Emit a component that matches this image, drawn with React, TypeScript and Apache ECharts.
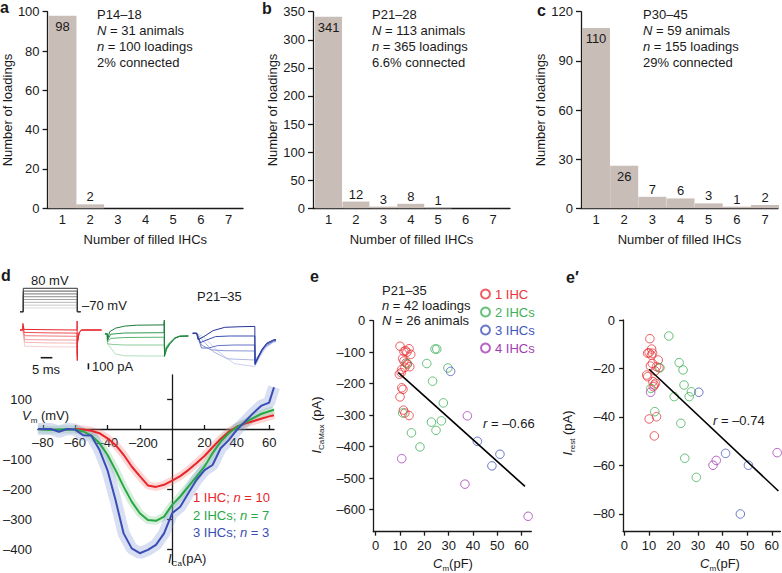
import React, { useEffect, useRef } from "react";
import * as echarts from "echarts";

const FONT = "'Liberation Sans', Arial, Helvetica, sans-serif";
const INK = "#1a1a1a";
const BAR = "#c9bdb7";

// ---- panels a-c : histograms ----
const fillBins = [1, 2, 3, 4, 5, 6, 7];
const countsP14 = [98, 2, 0, 0, 0, 0, 0];
const countsP21 = [341, 12, 3, 8, 1, 0, 0];
const countsP30 = [110, 26, 7, 6, 3, 1, 2];

// ---- panel d : voltage protocol (mV) ----
const protocolTimes = [0, 1.4, 1.4, 24.6, 24.6, 26];
const protocolLevels = [-46, -28, -10, 8, 26, 44, 62, 80]; // lightest first
const holdingMv = -70;

// ---- panel d : example current traces [ms, pA], darkest first ----
const redTraces = [
  [[0, 0], [1.2, 0], [1.25, 110], [1.7, 10], [12, 5], [24.5, 0], [24.55, 150], [24.6, -510], [24.7, -220], [25.4, -40], [26.5, 0], [35, 0]],
  [[0, 0], [1.2, 0], [1.25, 70], [1.8, -40], [12, -48], [24.5, -52], [24.6, -440], [24.7, -200], [25.4, -50], [26.5, 0], [35, 0]],
  [[0, 0], [1.2, 0], [1.25, 40], [1.9, -95], [12, -100], [24.5, -105], [24.6, -380], [24.7, -190], [25.4, -50], [26.5, 0], [35, 0]],
  [[0, 0], [1.2, 0], [1.25, 20], [2, -160], [12, -165], [24.5, -168], [24.6, -330], [24.7, -170], [25.4, -50], [26.5, 0], [35, 0]],
  [[0, 0], [1.2, 0], [2, -205], [12, -215], [24.5, -218], [24.6, -300], [24.7, -160], [25.4, -40], [26.5, 0], [35, 0]],
  [[0, 0], [1.2, 0], [2, -270], [12, -280], [24.5, -282], [24.6, -260], [24.7, -150], [25.4, -40], [26.5, 0], [35, 0]],
];
const greenTraces = [
  [[36.5, -65], [37.5, -65], [37.6, -170], [38.5, -30], [41, 30], [45, 65], [50, 80], [61.9, 85], [62, 165], [62.1, -440], [63, -320], [64.5, -230], [66.5, -140], [68.5, -105], [72.3, -100]],
  [[36.5, -65], [37.5, -65], [37.6, -170], [39, -70], [45, -50], [61.9, -45], [62, 120], [62.1, -400], [63, -300], [64.5, -220], [66.5, -140], [68.5, -105], [72.3, -100]],
  [[36.5, -65], [37.5, -65], [37.6, -200], [39, -140], [45, -125], [61.9, -120], [62.1, -360], [63, -280], [64.5, -210], [66.5, -135], [68.5, -105], [72.3, -100]],
  [[36.5, -65], [37.5, -65], [37.6, -230], [39.5, -240], [45, -250], [61.9, -250], [62.1, -330], [63, -270], [64.5, -200], [66.5, -130], [68.5, -105], [72.3, -100]],
  [[36.5, -65], [37.5, -65], [37.6, -230], [39, -300], [41, -400], [45, -430], [61.9, -435], [62.1, -380], [63, -300], [64.5, -210], [66.5, -130], [68.5, -105], [72.3, -100]],
];
const blueTraces = [
  [[74.2, -55], [75.9, -55], [76.5, -160], [79, -110], [83, -10], [88, 45], [95, 55], [100.9, 60], [101, -560], [102, -470], [104, -320], [106, -220], [108.9, -165], [110, -160]],
  [[74.2, -55], [75.9, -55], [77.5, -210], [80, -170], [84, -110], [90, -100], [100.9, -100], [101, -580], [102, -500], [104, -340], [106, -230], [108.9, -170], [110, -165]],
  [[74.2, -55], [75.9, -55], [78, -300], [81, -300], [85, -260], [92, -250], [100.9, -250], [101, -560], [102, -480], [104, -330], [106, -240], [108.9, -180], [110, -170]],
  [[74.2, -55], [75.9, -55], [78, -250], [82, -330], [88, -345], [100.9, -350], [101, -530], [103, -420], [105.5, -270], [108.9, -190], [110, -180]],
  [[74.2, -55], [75.9, -55], [78, -150], [83, -360], [89, -480], [100.9, -500], [102, -450], [105, -300], [108.9, -200], [110, -190]],
  [[74.2, -55], [75.9, -55], [79, -120], [85, -350], [92, -560], [100.9, -610], [103, -450], [106, -280], [108.9, -200], [110, -195]],
];
const scaleBarTime = [[8.9, -462], [13.9, -462]]; // 5 ms
const scaleBarCurrent = [[29.4, -555], [29.4, -655]]; // 100 pA

// ---- panel d : I-V curves ----
const vmSteps = [-83, -80, -75, -70, -65, -60, -55, -50, -45, -40, -35, -30, -25, -20, -15, -10, -5, 0, 5, 10, 15, 20, 25, 30, 35, 40, 45, 50, 55, 60, 63];
const ica1IHC = [null, null, null, null, null, 0, -2, -6, -14, -31, -53, -86, -125, -157, -188, -193, -186, -172, -157, -137, -114, -90, -61, -33, -9, 7, 18, 26, 34, 42, 46];
const ica2IHC = [0, -2, -3, -2, -1, -2, -8, -22, -47, -86, -137, -192, -242, -281, -303, -306, -292, -253, -225, -192, -159, -125, -81, -42, -14, 6, 21, 36, 50, 59, 64];
const ica3IHC = [0, 0, 0, -9, 0, -2, -21, -22, -69, -137, -237, -348, -398, -414, -403, -386, -348, -281, -259, -214, -170, -137, -120, -64, -37, -3, 24, 52, 77, 88, 139];
const ivXTicks = [-80, -60, -40, -20, 20, 40, 60];
const ivYTicks = [100, -100, -200, -300, -400];

// ---- panel e : I_CaMax vs Cm ----
const eRed = [[10, -81], [13.7, -89], [11.6, -98], [12.8, -100], [14.4, -107], [11.1, -120], [11.6, -128], [12.5, -134], [13, -138], [14, -146], [12, -148], [10.7, -155], [10.5, -165], [9.7, -170], [10.7, -213], [11.2, -218], [10, -242], [11.4, -284], [12, -293], [13.7, -301], [12.2, -95]];
const eGreen = [[21, -136], [24.4, -90], [25.1, -90], [29.7, -150], [13, -136], [23.4, -192], [27.8, -261], [11.1, -293], [22.9, -322], [27, -318], [24.8, -348], [14.7, -356], [18.2, -401]];
const eBlue = [[30.8, -161], [41.8, -383], [51.1, -424], [47.8, -461]];
const ePurple = [[37.7, -302], [10.7, -438], [36.7, -519], [62.7, -621]];
const eFit = [[9.3, -165], [61.4, -526]];

// ---- panel e' : I_rest vs Cm ----
const rRed = [[10.4, -7.7], [11.1, -12], [10.1, -13.5], [11.5, -13.7], [9.5, -13.7], [11, -14.5], [13.8, -16.5], [11.4, -17.9], [13.1, -19.2], [14.1, -19.7], [9.1, -22.7], [9.5, -23.4], [11.6, -25.4], [12.7, -26.1], [12.2, -26.8], [10.1, -40.8], [13.1, -39.9], [12.2, -47.8], [12.5, -21], [11.8, -27.5], [10.6, -19]];
const rGreen = [[18.1, -6.6], [22.3, -17.6], [23.9, -20.6], [14.5, -19.7], [24.3, -26.8], [27.3, -29.6], [26.4, -31.6], [20.3, -31.6], [10.8, -28.2], [12.4, -37.8], [23, -42.6], [24.6, -57], [29.3, -64.9]];
const rBlue = [[30.3, -29.8], [41.2, -55], [50.5, -59.9], [47.2, -80]];
const rPurple = [[10.7, -29.8], [36.1, -59.9], [37.4, -57.9], [62.2, -54.7]];
const rFit = [[10.1, -20.3], [62.7, -70.5]];

const cmTicks = [0, 10, 20, 30, 40, 50, 60];
const eYTicks = [0, -100, -200, -300, -400, -500, -600];
const rYTicks = [0, -20, -40, -60, -80];

const groupNames = ["1 IHC", "2 IHCs", "3 IHCs", "4 IHCs"];

// ---- styles ----
const C1 = "#e8353a", C2 = "#3fb058", C3 = "#4356bd", C4 = "#a43cb4";
const redShades = ["#e8252b", "#ec4e52", "#f07a7c", "#f39c9e", "#f6b8b9", "#f9d0d1"];
const greenShades = ["#1c7d3a", "#2f9b50", "#5cb673", "#89cc99", "#b4e0bf"];
const blueShades = ["#26359a", "#3a4eb4", "#6474c6", "#8b97d6", "#afb8e5", "#cdd3ef"];
const greyShades = ["#d8d8d8", "#c8c8c8", "#b6b6b6", "#a2a2a2", "#8c8c8c", "#767676", "#5a5a5a", "#333333"];

const fmt = (v: number) => (v < 0 ? "\u2013" + Math.abs(v) : String(v));
const lbl = { color: INK, fontSize: 13, fontFamily: FONT };
const aLine = { show: true, onZero: false, lineStyle: { color: INK, width: 1.3 } };
const aTick = (len: number, vals?: number[], inside = false) => ({ show: true, inside, length: len, lineStyle: { color: INK, width: 1.3 }, ...(vals ? { customValues: vals } : {}) });

const histX = (gi: number, min: number, max: number) => ({
  gridIndex: gi, type: "value", min, max,
  axisLine: aLine, axisTick: { show: false }, splitLine: { show: false },
  axisLabel: { ...lbl, margin: 5, customValues: fillBins },
  name: "Number of filled IHCs", nameLocation: "middle", nameGap: 25, nameTextStyle: lbl,
});
const histY = (gi: number, max: number, interval: number, gap: number) => ({
  gridIndex: gi, type: "value", min: 0, max, interval,
  axisLine: aLine, axisTick: aTick(5), splitLine: { show: false },
  axisLabel: { ...lbl, margin: 8 },
  name: "Number of loadings", nameLocation: "middle", nameGap: gap, nameTextStyle: lbl,
});
const hidden = (gi: number, min: number, max: number) => ({ gridIndex: gi, type: "value", min, max, show: false });

const barSeries = (gi: number, counts: number[], width: number, max: number) => ({
  type: "bar", xAxisIndex: gi, yAxisIndex: gi, barWidth: width,
  itemStyle: { color: BAR },
  data: counts.map((c, i) => ({
    value: [fillBins[i], c],
    label: c / max > 0.15 ? { position: "insideTop", distance: 4 } : { position: "top", distance: 1 },
  })),
  label: { show: true, formatter: (p: any) => (p.value[1] > 0 ? String(p.value[1]) : ""), ...lbl },
});
const lineS = (gi: number, data: any[], color: string, width: number, extra: any = {}) => ({
  type: "line", xAxisIndex: gi, yAxisIndex: gi, data, symbol: "none", clip: false, silent: true,
  lineStyle: { color, width }, ...extra,
});
const scatterS = (gi: number, name: string, data: number[][], color: string) => ({
  type: "scatter", name, xAxisIndex: gi, yAxisIndex: gi, data, symbol: "circle", symbolSize: 8.5, clip: false,
  itemStyle: { color: "rgba(0,0,0,0)", borderColor: color, borderWidth: 1 },
});
const txt = (x: number, y: number, text: string, extra: any = {}, el: any = {}) => ({
  type: "text", x, y, silent: true, ...el,
  style: {
    text, fill: INK, fontSize: 13, fontFamily: FONT, textAlign: "left", textVerticalAlign: "middle",
    rich: {
      i: { fontStyle: "italic", fontSize: 13, fontFamily: FONT, fill: extra.fill || INK, lineHeight: 18 },
      s: { fontSize: 8, fontFamily: FONT, fill: extra.fill || INK, verticalAlign: "bottom", lineHeight: 9 },
      n: { fontSize: 13, fontFamily: FONT, fill: extra.fill || INK, lineHeight: 18 },
    },
    ...extra,
  },
});
const panel = (x: number, y: number, t: string) => txt(x, y, t, { fontWeight: "bold", fontSize: 16 });

function buildOption() {
  const protocolSeries = protocolLevels.map((L, k) =>
    lineS(3, protocolTimes.map((t, i) => [t, i === 2 || i === 3 ? L : holdingMv]), greyShades[k], 1));
  const traceSeries: any[] = [];
  [[redTraces, redShades], [greenTraces, greenShades], [blueTraces, blueShades]].forEach(([tr, sh]: any) => {
    for (let k = tr.length - 1; k >= 0; k--) traceSeries.push(lineS(4, tr[k], sh[k], 1));
  });
  const iv = (arr: (number | null)[]) => vmSteps.map((v, i) => [v, arr[i] === null ? "-" : arr[i]]);

  return {
    animation: false,
    textStyle: { fontFamily: FONT },
    grid: [
      { left: 45, top: 11.7, width: 198, height: 196.6 },
      { left: 313, top: 11.7, width: 197, height: 196.6 },
      { left: 581, top: 11.7, width: 197, height: 196.6 },
      { left: 20, top: 287.5, width: 60.6, height: 25 },
      { left: 20, top: 318, width: 256, height: 54 },
      { left: 17, top: 375, width: 257, height: 189 },
      { left: 373.3, top: 320.7, width: 158, height: 211 },
      { left: 623.1, top: 320, width: 158, height: 211.7 },
    ],
    xAxis: [
      histX(0, 0.465, 7.52),
      histX(1, 0.434, 7.62),
      histX(2, 0.468, 7.46),
      hidden(3, 0, 26),
      hidden(4, 0, 110),
      {
        gridIndex: 5, type: "value", min: -83, max: 63, offset: -135,
        axisLine: aLine,
        axisTick: aTick(4, ivXTicks, true), splitLine: { show: false },
        axisLabel: { ...lbl, margin: 7, customValues: ivXTicks, formatter: fmt },
      },
      {
        gridIndex: 6, type: "value", min: -1, max: 64,
        axisLine: aLine, axisTick: aTick(4, cmTicks), splitLine: { show: false },
        axisLabel: { ...lbl, margin: 7, customValues: cmTicks },
      },
      {
        gridIndex: 7, type: "value", min: -0.5, max: 63.5,
        axisLine: aLine, axisTick: aTick(4, cmTicks), splitLine: { show: false },
        axisLabel: { ...lbl, margin: 7, customValues: cmTicks },
      },
    ],
    yAxis: [
      histY(0, 100, 20, 30),
      histY(1, 350, 50, 32),
      histY(2, 120, 30, 33),
      hidden(3, -75, 85),
      hidden(4, -700, 200),
      {
        gridIndex: 5, type: "value", min: -450, max: 180,
        axisLine: { show: true, onZero: true, lineStyle: { color: INK, width: 1.3 } },
        axisTick: aTick(5, ivYTicks), splitLine: { show: false },
        axisLabel: { ...lbl, margin: 6, customValues: ivYTicks, formatter: fmt },
      },
      {
        gridIndex: 6, type: "value", min: -670, max: 0,
        axisLine: aLine, axisTick: aTick(4, eYTicks), splitLine: { show: false },
        axisLabel: { ...lbl, margin: 8, customValues: eYTicks, formatter: fmt },
      },
      {
        gridIndex: 7, type: "value", min: -87.3, max: 0,
        axisLine: aLine, axisTick: aTick(4, rYTicks), splitLine: { show: false },
        axisLabel: { ...lbl, margin: 8, customValues: rYTicks, formatter: fmt },
      },
    ],
    legend: {
      orient: "vertical", left: 480, top: 287, padding: 0, itemWidth: 9, itemHeight: 9, itemGap: 4,
      selectedMode: false,
      textStyle: { fontSize: 13, fontFamily: FONT, lineHeight: 14 },
      data: groupNames.map((n, i) => ({ name: n, textStyle: { color: [C1, C2, C3, C4][i] } })),
    },
    series: [
      barSeries(0, countsP14, 28, 100),
      barSeries(1, countsP21, 27, 350),
      barSeries(2, countsP30, 28, 120),
      ...protocolSeries,
      ...traceSeries,
      lineS(4, scaleBarTime, INK, 1.6),
      lineS(4, scaleBarCurrent, INK, 1.6),
      lineS(5, iv(ica1IHC), "rgba(240,110,110,0.28)", 8),
      lineS(5, iv(ica2IHC), "rgba(120,200,135,0.30)", 8),
      lineS(5, iv(ica3IHC), "rgba(130,150,215,0.30)", 12),
      lineS(5, iv(ica1IHC), "#e8262a", 2),
      lineS(5, iv(ica2IHC), "#27a844", 2),
      lineS(5, iv(ica3IHC), "#3a4db5", 2),
      scatterS(6, groupNames[0], eRed, C1),
      scatterS(6, groupNames[1], eGreen, C2),
      scatterS(6, groupNames[2], eBlue, C3),
      scatterS(6, groupNames[3], ePurple, C4),
      lineS(6, eFit, "#000", 1.6),
      scatterS(7, groupNames[0], rRed, C1),
      scatterS(7, groupNames[1], rGreen, C2),
      scatterS(7, groupNames[2], rBlue, C3),
      scatterS(7, groupNames[3], rPurple, C4),
      lineS(7, rFit, "#000", 1.6),
    ],
    graphic: [
      panel(0, 7, "a"), panel(262, 8, "b"), panel(537, 10, "c"),
      panel(1, 275, "d"), panel(310, 276, "e"), panel(566, 277, "e\u2032"),
      txt(97, 14, "P14\u201318"), txt(97, 30, "{i|N} = 31 animals"), txt(97, 46, "{i|n} = 100 loadings"), txt(97, 62, "2% connected"),
      txt(372, 14, "P21\u201328"), txt(372, 30, "{i|N} = 113 animals"), txt(372, 46, "{i|n} = 365 loadings"), txt(372, 62, "6.6% connected"),
      txt(643, 14, "P30\u201345"), txt(643, 30, "{i|N} = 59 animals"), txt(643, 46, "{i|n} = 155 loadings"), txt(643, 62, "29% connected"),
      txt(31, 280, "80 mV"), txt(82, 305, "\u201370 mV"), txt(197, 296, "P21\u201335"),
      txt(46, 369, "5 ms", { textAlign: "center" }), txt(92, 366.5, "100 pA"),
      txt(22, 415, "{i|V}{s|m}{n| (mV)}"), txt(168, 558, "{i|I}{s|Ca}{n|(pA)}"),
      txt(154, 443, "0", { textAlign: "center" }),
      txt(193, 497, "1 IHC; {i|n} = 10", { fill: "#e8262a" }),
      txt(193, 515, "2 IHCs; {i|n} = 7", { fill: "#27a844" }),
      txt(193, 532, "3 IHCs; {i|n} = 3", { fill: "#3a4db5" }),
      txt(382, 290, "P21\u201335"), txt(382, 305, "{i|n} = 42 loadings"), txt(382, 320, "{i|N} = 26 animals"),
      txt(483, 423, "{i|r} = \u20130.66"), txt(713, 420, "{i|r} = \u20130.74"),
      txt(316, 425, "{i|I}{s|CaMax}{n| (pA)}", { textAlign: "center" }, { rotation: Math.PI / 2 }),
      txt(567, 433, "{i|I}{s|rest}{n| (pA)}", { textAlign: "center" }, { rotation: Math.PI / 2 }),
      txt(453, 563, "{i|C}{s|m}{n|(pF)}", { textAlign: "center" }),
      txt(720, 563, "{i|C}{s|m}{n|(pF)}", { textAlign: "center" }),
    ],
  };
}

export default function App() {
  const ref = useRef<HTMLDivElement>(null);
  useEffect(() => {
    document.body.style.margin = "0";
    const chart = echarts.init(ref.current!, null, { renderer: "svg" });
    chart.setOption(buildOption() as any);
    return () => chart.dispose();
  }, []);
  return <div ref={ref} style={{ width: 782, height: 573 }} />;
}
